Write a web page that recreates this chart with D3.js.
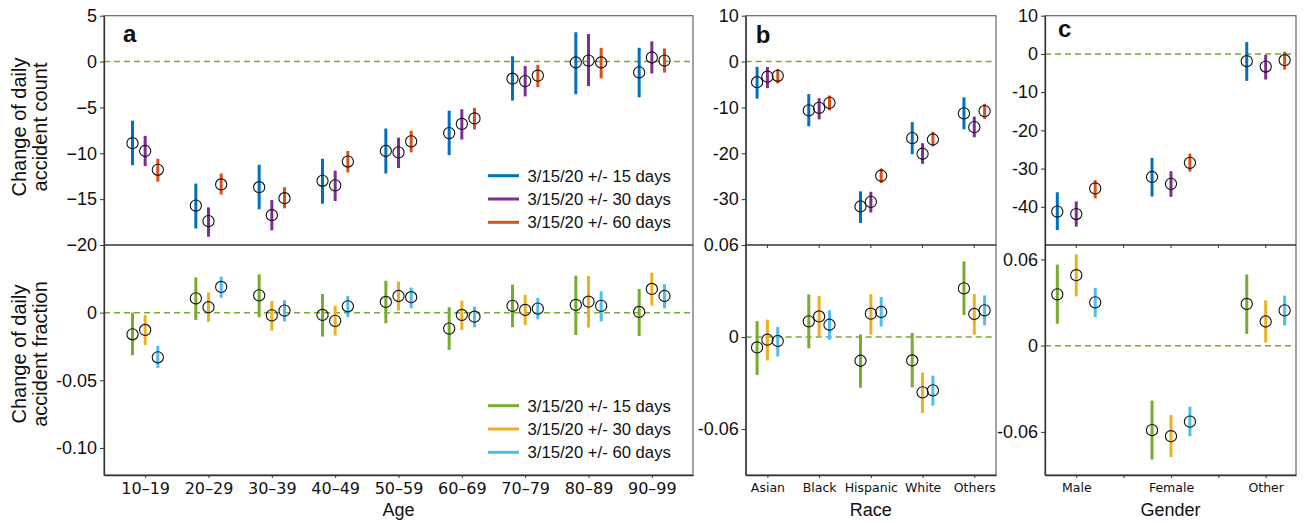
<!DOCTYPE html>
<html>
  <head>
    <meta charset=utf-8>
    <title>Change of daily accidents</title>
    <style>
      body{ margin:0; background:#fff; }
      text{ font-family:"Liberation Sans", Arial, sans-serif; fill:#111; }
      .xtick text{ font-family:"DejaVu Sans", Verdana, sans-serif; }
    </style>
  </head>
  <body>
    <script src="https://d3js.org/d3.v7.min.js"></script>
    <script>
      // categories
      var ageGroups = ["10\u201319","20\u201329","30\u201339","40\u201349","50\u201359","60\u201369","70\u201379","80\u201389","90\u201399"];
      var raceGroups = ["Asian","Black","Hispanic","White","Others"];
      var genderGroups = ["Male","Female","Other"];
      var windowLabels = ["3/15/20 +/- 15 days","3/15/20 +/- 30 days","3/15/20 +/- 60 days"];

      // [estimate, lower, upper]
      var ageCount15 = [[-8.9,-11.3,-6.45],[-15.7,-18.2,-13.3],[-13.7,-16.1,-11.25],[-13.0,-15.5,-10.6],[-9.75,-12.2,-7.3],[-7.8,-10.2,-5.35],[-1.87,-4.25,0.58],[-0.1,-3.56,3.2],[-1.18,-3.9,1.5]];
      var ageCount30 = [[-9.75,-11.4,-8.1],[-17.4,-19.1,-15.9],[-16.75,-18.4,-15.1],[-13.5,-15.2,-11.9],[-9.9,-11.6,-8.3],[-6.8,-8.5,-5.2],[-2.13,-3.8,-0.48],[0.1,-2.68,3.0],[0.44,-1.3,2.2]];
      var ageCount60 = [[-11.8,-13.1,-10.6],[-13.4,-14.5,-12.2],[-14.9,-16.0,-13.7],[-10.9,-12.1,-9.75],[-8.7,-9.9,-7.55],[-6.2,-7.4,-5.05],[-1.54,-2.8,-0.37],[-0.1,-1.83,1.5],[0.1,-1.2,1.43]];
      var ageFrac15 = [[-0.016,-0.0315,0],[0.0106,-0.0054,0.026],[0.0128,-0.0034,0.0283],[-0.0017,-0.0177,0.0138],[0.0079,-0.0078,0.0236],[-0.0118,-0.0275,0.004],[0.005,-0.0108,0.0207],[0.0057,-0.0165,0.0273],[0.0005,-0.0172,0.0175]];
      var ageFrac30 = [[-0.0128,-0.0239,-0.0017],[0.004,-0.0069,0.015],[-0.002,-0.0133,0.0087],[-0.0061,-0.017,0.005],[0.0123,0.0015,0.0229],[-0.0017,-0.0128,0.0089],[0.002,-0.0091,0.0131],[0.0081,-0.011,0.0271],[0.0175,0.0052,0.0295]];
      var ageFrac60 = [[-0.033,-0.041,-0.0246],[0.019,0.011,0.0266],[0.0015,-0.0066,0.0092],[0.0047,-0.0032,0.0123],[0.0114,0.0032,0.0185],[-0.003,-0.0108,0.0044],[0.003,-0.0049,0.0109],[0.005,-0.0066,0.0158],[0.0123,0.0032,0.021]];

      var raceCount15 = [[-4.5,-8.1,-1.15],[-10.65,-14.1,-7.1],[-31.6,-35.2,-28.3],[-16.7,-20.2,-13.2],[-11.3,-14.8,-7.8]];
      var raceCount30 = [[-3.3,-5.8,-1.2],[-10.1,-12.6,-8.0],[-30.6,-32.9,-28.4],[-20.1,-22.3,-17.8],[-14.3,-16.5,-12.0]];
      var raceCount60 = [[-3.1,-4.8,-1.6],[-9.0,-10.65,-7.4],[-24.9,-26.5,-23.3],[-17.0,-18.5,-15.3],[-10.8,-12.5,-9.2]];
      var raceFrac15 = [[-0.0068,-0.0248,0.0104],[0.0102,-0.0074,0.0278],[-0.0155,-0.033,0.0017],[-0.0153,-0.0329,0.0026],[0.0317,0.0144,0.0493]];
      var raceFrac30 = [[-0.0018,-0.0153,0.0113],[0.0134,0.0004,0.0267],[0.0152,0.0017,0.028],[-0.0361,-0.0496,-0.0231],[0.015,0.0015,0.028]];
      var raceFrac60 = [[-0.0026,-0.0127,0.0065],[0.008,-0.0018,0.0174],[0.0163,0.0069,0.0261],[-0.0348,-0.0448,-0.0252],[0.0174,0.0076,0.0271]];

      var genderCount15 = [[-41.25,-46.1,-36.2],[-32.2,-37.3,-27.2],[-1.9,-7.05,3.1]];
      var genderCount30 = [[-41.9,-45.2,-38.6],[-34.0,-37.4,-30.7],[-3.3,-6.7,-0.26]];
      var genderCount60 = [[-35.2,-37.8,-33.0],[-28.5,-30.8,-26.1],[-1.65,-4.1,0.6]];
      var genderFrac15 = [[0.0357,0.0152,0.0563],[-0.0588,-0.0793,-0.0382],[0.029,0.0082,0.0495]];
      var genderFrac30 = [[0.049,0.0343,0.0635],[-0.063,-0.0775,-0.0483],[0.0168,0.0021,0.0315]];
      var genderFrac60 = [[0.0301,0.0199,0.0402],[-0.0529,-0.063,-0.0425],[0.0245,0.014,0.0348]];

      // tick values
      var ageCountTicks = [-20,-15,-10,-5,0,5];
      var ageFracTicks = [-0.10,-0.05,0];
      var raceCountTicks = [-30,-20,-10,0,10];
      var raceFracTicks = [-0.06,0,0.06];
      var genderCountTicks = [-40,-30,-20,-10,0,10];
      var genderFracTicks = [-0.06,0,0.06];

      var countColors = ["#0072BD","#7E2F8E","#D95319"];
      var fracColors = ["#77AC30","#EDB120","#4DBEEE"];

      var W = 1306, H = 523;
      var plotTop = 15.7, plotMid = 245, plotBottom = 475;

      var svg = d3.select("body").append("svg")
        .attr("width", W)
        .attr("height", H);

      function fmtA(d){ return d === 0 ? "0" : (d < 0 ? "\u2212" + (-d) : "" + d); }
      function fmtDash(d){ return d === 0 ? "0" : d3.format(".0f")(d).replace("\u2212","-"); }
      function fmtFrac(d){ return d === 0 ? "0" : d3.format(".2f")(d).replace("\u2212","-"); }

      var panels = [
        {label:"a", cats:ageGroups, x0:104, x1:693, xdom:[-0.65,8.65], xfont:16, xticks:d3.range(9), title:"Age",
         countDom:[-20,5], fracDom:[-0.12,0.05], countTicks:ageCountTicks, fracTicks:ageFracTicks,
         countFmt:fmtA, count:[ageCount15,ageCount30,ageCount60], frac:[ageFrac15,ageFrac30,ageFrac60],
         midTicks:[], lx:[19,26]},
        {label:"b", cats:raceGroups, x0:745.7, x1:996, xdom:[-0.42,4.42], xfont:12.5, xticks:d3.range(5), title:"Race",
         countDom:[-40,10], fracDom:[-0.09,0.06], countTicks:raceCountTicks, fracTicks:raceFracTicks,
         countFmt:fmtDash, count:[raceCount15,raceCount30,raceCount60], frac:[raceFrac15,raceFrac30,raceFrac60],
         midTicks:d3.range(5), lx:[10,27]},
        {label:"c", cats:genderGroups, x0:1045, x1:1296, xdom:[-0.33,2.32], xfont:12.5, xticks:[0,0.5,1,1.5,2], title:"Gender",
         countDom:[-50,10], fracDom:[-0.09,0.07], countTicks:genderCountTicks, fracTicks:genderFracTicks,
         countFmt:fmtDash, count:[genderCount15,genderCount30,genderCount60], frac:[genderFrac15,genderFrac30,genderFrac60],
         midTicks:[0,0.5,1,1.5,2], lx:[13,21]}
      ];

      panels.forEach(function(p)
      {
        var x = d3.scaleLinear().domain(p.xdom).range([p.x0, p.x1]);
        var yC = d3.scaleLinear().domain(p.countDom).range([plotMid, plotTop]);
        var yF = d3.scaleLinear().domain(p.fracDom).range([plotBottom, plotMid]);
        var g = svg.append("g");

        // frame
        g.append("rect")
          .attr("x", p.x0).attr("y", plotTop)
          .attr("width", p.x1 - p.x0).attr("height", plotBottom - plotTop)
          .style("fill", "none").style("stroke", "#666").style("stroke-width", 1.2);
        g.append("line")
          .attr("x1", p.x0).attr("x2", p.x1)
          .attr("y1", plotMid).attr("y2", plotMid)
          .style("stroke", "#333").style("stroke-width", 1.3);

        // dashed zero lines
        [yC, yF].forEach(function(y)
        {
          g.append("line")
            .attr("x1", p.x0).attr("x2", p.x1)
            .attr("y1", y(0)).attr("y2", y(0))
            .style("stroke", "#77AC30").style("stroke-width", 1.5)
            .style("stroke-dasharray", "6,4");
        });

        // y axes
        var axC = g.append("g").attr("transform", "translate(" + p.x0 + ",0)")
          .call(d3.axisLeft(yC).tickValues(p.countTicks).tickFormat(p.countFmt).tickSize(4).tickSizeOuter(0).tickPadding(3));
        var axF = g.append("g").attr("transform", "translate(" + p.x0 + ",0)")
          .call(d3.axisLeft(yF).tickValues(p.fracTicks).tickFormat(fmtFrac).tickSize(4).tickSizeOuter(0).tickPadding(3));
        [axC, axF].forEach(function(ax)
        {
          ax.selectAll("text").style("font-size", "18px").style("font-family", "Liberation Sans, Arial, sans-serif").style("fill", "#111");
          ax.selectAll("line").style("stroke", "#333");
          ax.select(".domain").style("stroke", "#333").style("stroke-width", 1.3);
        });

        // x axis
        var axX = g.append("g").attr("class", "xtick").attr("transform", "translate(0," + plotBottom + ")")
          .call(d3.axisBottom(x).tickValues(p.xticks)
            .tickFormat(function(d){ return d % 1 === 0 ? p.cats[d] : ""; })
            .tickSize(3).tickSizeOuter(0).tickPadding(5));
        axX.selectAll("text").style("font-size", p.xfont + "px").style("fill", "#111");
        axX.selectAll("line").style("stroke", "#333");
        axX.select(".domain").style("stroke", "#333").style("stroke-width", 1.3);

        // ticks on the divider
        g.selectAll("midtick").data(p.midTicks).enter().append("line")
          .attr("x1", function(d){ return x(d); }).attr("x2", function(d){ return x(d); })
          .attr("y1", plotMid).attr("y2", plotMid + 3)
          .style("stroke", "#333");

        // error bars and points
        function drawSeries(sets, colors, y)
        {
          sets.forEach(function(vals, k)
          {
            var off = (k - 1) * 0.2;
            g.selectAll("bar").data(vals).enter().append("line")
              .attr("x1", function(d, i){ return x(i + off); })
              .attr("x2", function(d, i){ return x(i + off); })
              .attr("y1", function(d){ return y(d[1]); })
              .attr("y2", function(d){ return y(d[2]); })
              .style("stroke", colors[k]).style("stroke-width", 3);
          });
          sets.forEach(function(vals, k)
          {
            var off = (k - 1) * 0.2;
            g.selectAll("pt").data(vals).enter().append("circle")
              .attr("cx", function(d, i){ return x(i + off); })
              .attr("cy", function(d){ return y(d[0]); })
              .attr("r", 5.6)
              .style("fill", "none").style("stroke", "#111").style("stroke-width", 1.1);
          });
        }
        drawSeries(p.count, countColors, yC);
        drawSeries(p.frac, fracColors, yF);

        // panel letter
        g.append("text")
          .attr("x", p.x0 + p.lx[0])
          .attr("y", plotTop + p.lx[1])
          .style("font-size", "24px").style("font-weight", "bold")
          .text(p.label);

        // x title
        g.append("text")
          .attr("x", (p.x0 + p.x1) / 2)
          .attr("y", 516)
          .attr("text-anchor", "middle")
          .style("font-size", "18px")
          .text(p.title);
      });

      // y titles
      function yTitle(l1, l2, cy)
      {
        var t = svg.append("text")
          .attr("text-anchor", "middle")
          .attr("transform", "translate(26," + cy + ")rotate(-90)")
          .style("font-size", "20px");
        t.append("tspan").attr("x", 0).attr("dy", 0).text(l1);
        t.append("tspan").attr("x", 0).attr("dy", 21).text(l2);
      }
      yTitle("Change of daily", "accident count", 127);
      yTitle("Change of daily", "accident fraction", 354);

      // legends
      function legend(colors, y0)
      {
        windowLabels.forEach(function(lab, k)
        {
          var yy = y0 + k * 23.3;
          svg.append("line")
            .attr("x1", 488).attr("x2", 519)
            .attr("y1", yy).attr("y2", yy)
            .style("stroke", colors[k]).style("stroke-width", 3);
          svg.append("text")
            .attr("x", 527.5).attr("y", yy + 6)
            .style("font-size", "16.7px")
            .text(lab);
        });
      }
      legend(countColors, 175.7);
      legend(fracColors, 405.7);
    </script>
  </body>
</html>
